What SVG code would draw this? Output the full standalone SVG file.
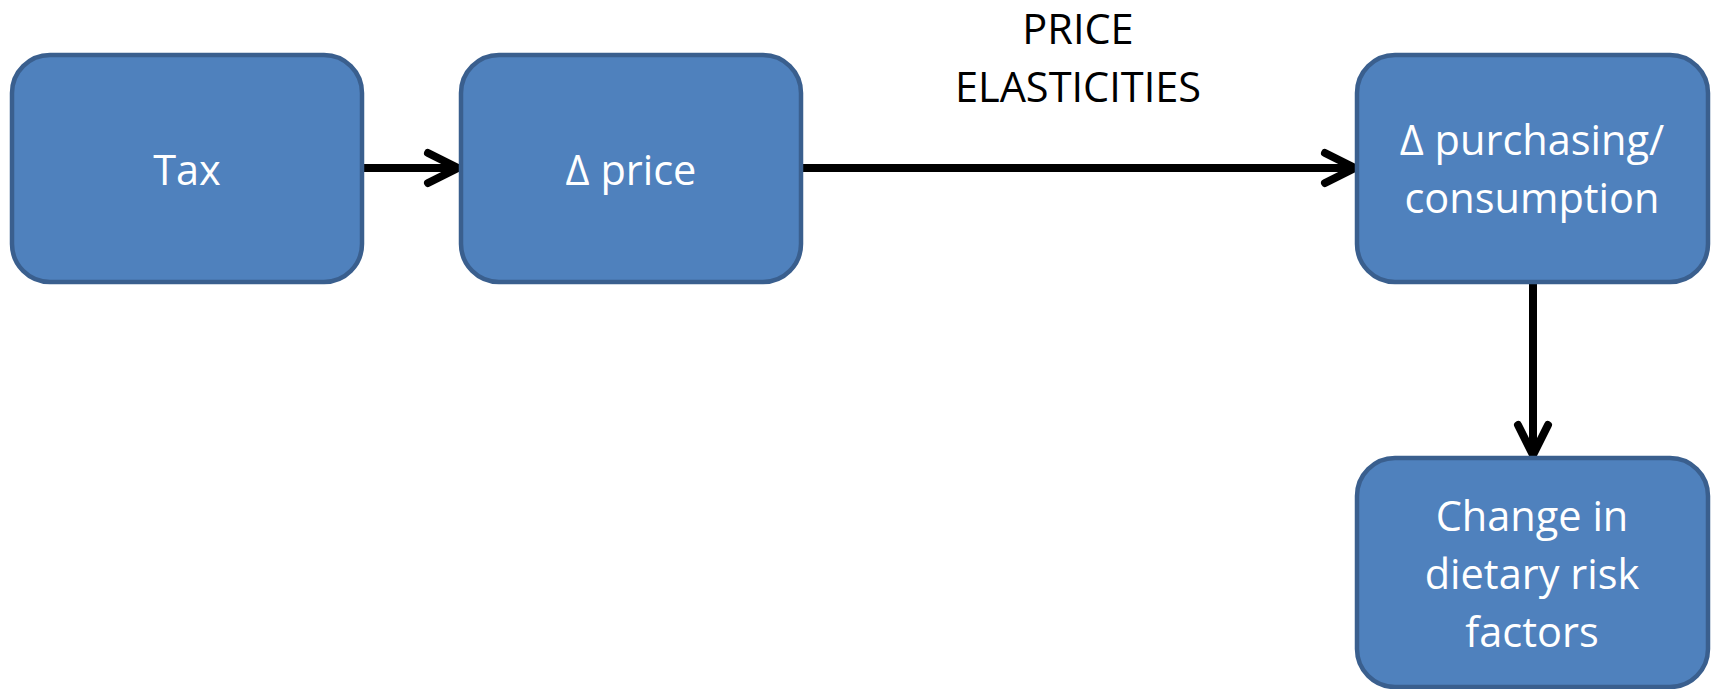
<svg xmlns="http://www.w3.org/2000/svg" width="1713" height="689" viewBox="0 0 1713 689">
<style>
.box{fill:#4f81bd;stroke:#3a5f8e;stroke-width:4.5}
.lbl{font-family:"Open Sans","Liberation Sans",sans-serif;font-size:41.5px;fill:#ffffff;text-anchor:middle}
.note{font-family:"Open Sans","Liberation Sans",sans-serif;font-size:41.5px;fill:#000000;text-anchor:middle}
.conn{stroke:#000;stroke-width:8;fill:none}
</style>
<defs>
<marker id="arr" markerUnits="userSpaceOnUse" viewBox="-40 -25 50 50" markerWidth="50" markerHeight="50" refX="0" refY="0" orient="auto" overflow="visible">
<path d="M-30,-15 L0,0 L-30,15" fill="none" stroke="#000" stroke-width="8" stroke-linecap="round" stroke-linejoin="round"/>
</marker>
</defs>
<g id="connectors">
<line class="conn" x1="362" y1="168" x2="458" y2="168" marker-end="url(#arr)"/>
<line class="conn" x1="801" y1="168" x2="1355" y2="168" marker-end="url(#arr)"/>
<line class="conn" x1="1533" y1="282" x2="1533" y2="455" marker-end="url(#arr)"/>
</g>
<g id="label-elasticities">
<text class="note" x="1078" y="44">PRICE</text>
<text class="note" x="1078" y="102">ELASTICITIES</text>
</g>
<g id="node-tax">
<rect class="box" x="12" y="55" width="350" height="227" rx="38"/>
<text class="lbl" x="187" y="185">Tax</text>
</g>
<g id="node-price">
<rect class="box" x="461" y="55" width="340" height="227" rx="38"/>
<text class="lbl" x="631" y="185">Δ price</text>
</g>
<g id="node-purchasing">
<rect class="box" x="1357" y="55" width="351" height="227" rx="38"/>
<text class="lbl" x="1532" y="155">Δ purchasing/</text>
<text class="lbl" x="1532" y="213">consumption</text>
</g>
<g id="node-risk">
<rect class="box" x="1357" y="458" width="351" height="229" rx="38"/>
<text class="lbl" x="1532" y="531">Change in</text>
<text class="lbl" x="1532" y="589">dietary risk</text>
<text class="lbl" x="1532" y="647">factors</text>
</g>
</svg>
